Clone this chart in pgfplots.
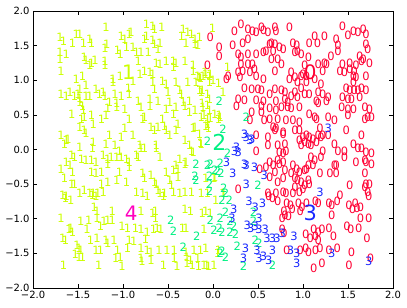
\documentclass[border=0pt]{standalone}
\usepackage{fontspec}
\setmainfont{DejaVu Sans}
\usepackage{pgfplots}
\pgfplotsset{compat=1.18}
\definecolor{c0}{RGB}{255,0,51}
\definecolor{c1}{RGB}{204,255,0}
\definecolor{c2}{RGB}{0,240,130}
\definecolor{c3}{RGB}{25,40,255}
\definecolor{c4}{RGB}{255,0,190}
\pgfplotsset{
  digit/.style n args={3}{only marks, mark=text, text mark={#1}, text mark as node=true,
    text mark style={font=\fontsize{#3}{#3}\selectfont, text=#2, inner sep=0pt}},
}
\begin{document}
\begin{tikzpicture}
\begin{axis}[
  scale only axis, width=360bp, height=277bp,
  xmin=-2, xmax=2, ymin=-2, ymax=2,
  xtick={-2,-1.5,-1,-0.5,0,0.5,1,1.5,2},
  ytick={-2,-1.5,-1,-0.5,0,0.5,1,1.5,2},
  xticklabels={−2.0,−1.5,−1.0,−0.5,0.0,0.5,1.0,1.5,2.0},
  yticklabels={−2.0,−1.5,−1.0,−0.5,0.0,0.5,1.0,1.5,2.0},
  tick label style={font=\fontsize{10}{12}\selectfont},
  major tick length=4bp,
  tick style={black, line width=0.6bp},
  axis line style={line width=0.8bp},
]
% digit 1
\addplot[digit={1}{c1}{11.5}] coordinates {
(-1.19,1.76)(-1.02,1.63)(-1.70,1.62)(-1.66,1.56)(-1.52,1.67)(-1.48,1.66)(-1.56,1.54)(-1.44,1.53)
(-1.37,1.59)(-1.35,1.53)(-1.20,1.46)(-1.18,1.52)(-1.06,1.43)(-1.03,1.38)(-1.70,1.40)(-1.70,1.30)
(-1.63,1.37)(-1.43,1.33)(-1.41,1.29)(-1.35,1.25)(-1.31,1.29)(-1.37,1.21)(-1.20,1.28)(-1.20,1.21)
(-1.69,1.13)(-1.52,1.01)(-1.45,1.06)(-1.41,0.93)(-1.48,0.87)(-1.11,1.01)(-1.11,0.97)(-1.03,1.05)
(-1.69,0.80)(-1.63,0.77)(-1.59,0.82)(-1.54,0.77)(-1.50,0.80)(-1.48,0.74)(-1.41,0.77)(-1.37,0.77)
(-1.30,0.87)(-1.26,0.80)(-1.22,0.82)(-1.20,0.77)(-1.09,0.80)(-1.02,0.77)(-1.15,0.68)(-1.07,0.66)
(-1.48,0.68)
(-0.74,1.81)(-0.67,1.78)(-0.65,1.74)(-0.57,1.76)(-0.93,1.66)(-0.91,1.69)(-0.74,1.64)(-0.76,1.59)
(-0.67,1.57)(-0.65,1.52)(-0.59,1.54)(-0.61,1.45)(-0.33,1.74)(-0.35,1.64)(-0.28,1.69)(-0.24,1.67)
(-0.20,1.59)(-0.15,1.62)(-0.30,1.54)(-0.20,1.52)(-0.17,1.50)(-0.98,1.59)(-0.96,1.47)(-0.89,1.47)
(-0.85,1.40)(-0.80,1.40)(-0.72,1.40)(-0.83,1.28)(-0.63,1.25)(-0.59,1.23)(-0.52,1.28)(-0.44,1.28)
(-0.44,1.18)(-0.41,1.25)(-0.31,1.28)(-0.22,1.21)(-0.22,1.13)(-0.17,1.06)(-0.11,1.06)(-0.09,1.11)
(-0.04,1.06)(-0.89,0.99)(-0.81,1.09)(-0.76,1.13)(-0.70,1.11)(-0.67,1.09)(-0.67,0.97)(-0.65,0.87)
(-0.56,0.99)(-0.52,0.94)(-0.41,0.97)(-0.28,0.97)(-0.19,0.97)(-0.15,1.04)(-0.94,0.89)(-0.93,0.80)
(-0.83,0.70)(-0.70,0.73)(-0.61,0.70)(-0.50,0.82)(-0.37,0.85)(-0.35,0.80)(-0.15,0.85)(-0.13,0.82)
(-0.04,0.97)(-0.48,0.68)(-0.33,0.68)(-0.26,0.70)(-0.04,0.73)
(-0.005,1.75)(-0.08,1.09)(-0.03,1.08)(0.16,1.18)(-0.14,1.03)(0.0,1.0)(0.06,0.96)(-0.12,0.86)
(-0.06,0.79)(0.11,0.82)(-0.12,0.67)(-0.06,0.64)(-0.10,0.50)(-0.03,0.45)(0.08,0.47)(-0.08,0.33)
(-0.05,0.31)(-0.14,0.09)(0.02,0.51)(0.07,0.49)(0.06,0.44)(0.02,-0.40)(0.11,-0.64)
(-1.45,0.63)(-1.44,0.56)(-1.57,0.51)(-1.46,0.44)(-1.43,0.47)(-1.35,0.49)(-1.24,0.44)(-1.19,0.49)
(-1.17,0.59)(-1.07,0.61)(-1.48,0.32)(-1.43,0.27)(-1.41,0.23)(-1.33,0.37)(-1.69,0.20)(-1.63,0.13)
(-1.61,0.15)(-1.65,0.08)(-1.33,0.10)(-1.15,0.20)(-1.02,0.18)(-1.48,0.03)(-1.34,0.01)(-1.19,0.08)
(-1.09,0.06)(-1.04,-0.02)(-1.57,-0.09)(-1.54,-0.11)(-1.46,-0.14)(-1.41,-0.16)(-1.35,-0.16)(-1.30,-0.18)
(-1.22,-0.09)(-1.17,-0.14)(-1.13,-0.11)(-1.07,-0.11)(-1.02,-0.11)(-1.17,-0.21)(-1.63,-0.18)(-1.59,-0.23)
(-1.69,-0.28)(-1.56,-0.33)(-1.35,-0.33)(-1.30,-0.35)(-1.24,-0.33)(-1.04,-0.33)(-1.65,-0.42)(-1.57,-0.50)
(-1.54,-0.50)(-1.24,-0.50)(-1.17,-0.47)(-1.07,-0.45)(-1.43,-0.59)(-1.37,-0.63)(-1.33,-0.64)(-1.28,-0.63)
(-1.22,-0.62)(-1.67,-0.66)(-1.63,-0.68)(-1.48,-0.64)
(-0.98,0.58)(-0.80,0.61)(-0.70,0.63)(-0.52,0.58)(-0.41,0.61)(-0.31,0.63)(-0.26,0.54)(-0.20,0.56)
(-0.11,0.61)(-0.04,0.56)(-0.93,0.44)(-0.78,0.44)(-0.76,0.46)(-0.56,0.44)(-0.44,0.51)(-0.98,0.30)
(-0.89,0.20)(-0.69,0.32)(-0.65,0.27)(-0.61,0.32)(-0.54,0.34)(-0.52,0.27)(-0.48,0.20)(-0.41,0.27)
(-0.39,0.37)(-0.22,0.30)(-0.20,0.32)(-0.15,0.22)(-0.06,0.44)(-0.06,0.37)(-0.13,0.46)(-0.81,0.06)
(-0.80,0.01)(-0.76,0.01)(-0.63,0.06)(-0.63,0.01)(-0.59,-0.11)(-0.31,0.13)(-0.26,0.06)(-0.24,-0.02)
(-0.22,-0.04)(-0.13,0.08)(-0.96,-0.14)(-0.93,-0.18)(-0.93,-0.26)(-0.85,-0.09)(-0.83,-0.11)(-0.37,-0.14)
(-0.31,-0.21)(-0.30,-0.18)(-0.41,-0.23)(-0.39,-0.28)(-0.44,-0.30)(-0.52,-0.33)(-0.96,-0.47)(-0.78,-0.35)
(-0.76,-0.42)(-0.69,-0.38)(-0.65,-0.47)(-0.63,-0.50)(-0.48,-0.45)(-0.46,-0.52)(-0.39,-0.40)(-0.85,-0.62)
(-0.78,-0.64)(-0.61,-0.59)(-0.59,-0.64)(-0.54,-0.64)(-0.44,-0.62)(-0.37,-0.64)(-0.31,-0.62)(-0.24,-0.62)
(-0.13,-0.64)(-0.06,-0.64)
(-1.64,-0.70)(-1.58,-0.73)(-1.34,-0.66)(-1.30,-0.67)(-0.73,-0.68)(-0.55,-0.68)(-1.32,-0.83)(-1.29,-0.90)
(-1.12,-0.90)(-0.80,-0.90)(-0.67,-0.92)(-0.64,-0.90)(-0.31,-0.87)(-0.25,-0.90)(-0.12,-0.92)(-1.69,-0.99)
(-1.47,-1.04)(-1.38,-1.02)(-1.29,-0.99)(-1.21,-1.04)(-1.17,-1.02)(-1.12,-1.02)(-0.64,-0.99)(-1.58,-1.14)
(-1.60,-1.16)(-1.56,-1.19)(-1.40,-1.16)(-1.25,-1.11)(-1.01,-1.11)(-0.95,-1.14)(-0.86,-1.14)(-0.80,-1.16)
(-0.73,-1.19)(-0.66,-1.16)(-0.62,-1.14)(-0.58,-1.16)(-0.34,-1.14)(-0.30,-1.14)(-1.67,-1.28)(-1.64,-1.31)
(-1.51,-1.38)(-1.36,-1.31)(-1.29,-1.28)(-1.19,-1.31)(-1.17,-1.36)(-1.10,-1.31)(-0.93,-1.31)(-0.88,-1.33)
(-0.75,-1.30)(-1.49,-1.43)(-1.47,-1.45)(-1.30,-1.45)(-1.25,-1.45)(-1.06,-1.45)(-0.95,-1.43)(-0.80,-1.43)
(-0.73,-1.45)(-0.69,-1.48)(-0.60,-1.45)(-0.51,-1.45)(-0.43,-1.45)(-0.30,-1.48)(-0.21,-1.45)(-0.14,-1.45)
(-1.53,-1.52)(-1.49,-1.55)(-1.45,-1.55)(-1.08,-1.57)(-1.03,-1.55)(-0.80,-1.57)(-0.79,-1.62)(-0.69,-1.60)
(-0.43,-1.57)(-0.29,-1.55)(-0.25,-1.60)(-0.17,-1.57)(-1.66,-1.67)(-1.27,-1.67)(-1.01,-1.69)(-0.55,-1.67)
(-0.40,-1.69)(-0.29,-1.64)(-0.23,-1.67)(-0.16,-1.69)(-0.10,-1.67)
(-0.08,-0.90)(-0.03,-0.92)(-0.10,-1.16)(-0.08,-1.43)(0.05,-1.50)(0.06,-1.45)(-0.07,-1.67)(-0.05,-1.69)
(0.01,-1.67)(0.03,-0.73)(0.12,-0.63)(-0.08,-0.42)(0.01,-0.42)
};
% digit 0
\addplot[digit={0}{c0}{11.5}] coordinates {
(-0.03,1.62)(-0.06,1.22)
(0.31,1.81)(0.24,1.70)(0.39,1.74)(0.44,1.70)(0.48,1.69)(0.54,1.77)(0.56,1.72)(0.61,1.69)
(0.69,1.76)(0.70,1.70)(0.85,1.77)(0.33,1.54)(0.39,1.59)(0.22,1.50)(0.07,1.47)(0.07,1.35)
(0.28,1.38)(0.31,1.33)(0.39,1.38)(0.48,1.38)(0.56,1.40)(0.59,1.42)(0.63,1.52)(0.65,1.54)
(0.69,1.52)(0.67,1.42)(0.74,1.47)(0.78,1.45)(0.89,1.54)(0.93,1.50)(0.91,1.40)(0.98,1.38)
(0.94,1.42)(0.31,1.23)(0.39,1.23)(0.44,1.23)(0.33,1.13)(0.41,1.11)(0.28,1.11)(0.17,1.06)
(0.15,1.01)(0.30,1.04)(0.46,1.16)(0.48,1.06)(0.56,1.01)(0.65,1.30)(0.72,1.30)(0.76,1.23)
(0.69,1.13)(0.87,1.11)(0.91,1.04)(0.98,1.06)(0.85,1.01)(0.94,0.97)(0.98,0.89)(0.35,0.89)
(0.43,0.87)(0.50,0.87)(0.54,0.86)(0.69,0.87)(0.76,0.85)(0.80,0.82)(0.87,0.77)(0.91,0.82)
(0.94,0.75)(0.28,0.73)(0.35,0.71)(0.48,0.71)(0.56,0.69)(0.70,0.70)(0.80,0.73)(0.83,0.68)
(0.63,0.80)
(1.44,1.78)(1.50,1.65)(1.56,1.71)(1.61,1.69)(1.67,1.74)(1.70,1.66)(1.13,1.64)(1.07,1.54)
(1.16,1.54)(1.24,1.63)(1.37,1.59)(1.39,1.50)(1.39,1.42)(1.31,1.35)(1.24,1.25)(1.26,1.23)
(1.44,1.23)(1.52,1.25)(1.59,1.22)(1.65,1.28)(1.63,1.35)(1.67,1.30)(1.74,1.25)(1.70,1.52)
(1.72,1.45)(1.06,1.33)(1.02,1.21)(1.00,1.09)(1.04,1.06)(1.13,1.01)(1.17,1.23)(1.22,1.13)
(1.41,1.13)(1.46,1.11)(1.52,1.16)(1.57,1.13)(1.56,1.06)(1.59,1.04)(1.56,0.97)(1.70,1.06)
(1.65,0.89)(1.70,0.85)(1.48,0.89)(1.52,0.85)(1.57,0.85)(1.61,0.85)(1.04,0.97)(1.02,0.80)
(1.07,0.80)(1.17,0.82)(1.22,0.80)(1.28,0.75)(1.26,0.70)(1.15,0.70)(1.44,0.75)(1.50,0.73)
(1.54,0.73)(1.63,0.75)(1.20,0.94)
(0.26,0.63)(0.54,0.63)(0.43,0.54)(0.54,0.54)(0.63,0.59)(0.70,0.56)(0.76,0.61)(0.83,0.61)
(0.87,0.59)(0.96,0.61)(0.41,0.42)(0.57,0.42)(0.63,0.44)(0.72,0.44)(0.81,0.42)(0.89,0.42)
(0.96,0.39)(0.67,0.32)(0.69,0.27)(0.70,0.30)(0.78,0.25)(0.78,0.22)(0.91,0.27)(0.96,0.27)
(0.61,0.18)(0.48,0.20)(0.72,0.06)(0.80,0.08)(0.96,0.13)(0.98,0.06)(0.48,-0.02)(0.61,0.06)
(0.74,-0.04)(0.78,-0.06)(0.81,-0.02)(0.63,-0.18)(0.67,-0.23)(0.72,-0.16)(0.74,-0.21)(0.78,-0.18)
(0.52,-0.28)(0.59,-0.26)(0.69,-0.33)(0.80,-0.30)(0.89,-0.23)(0.93,-0.28)(0.96,-0.33)(0.87,-0.35)
(0.63,-0.40)(0.72,-0.47)(0.78,-0.42)(0.91,-0.42)(0.94,-0.45)(0.98,-0.47)(0.91,-0.55)(0.28,-0.57)
(0.61,-0.64)(0.70,-0.64)(0.78,-0.62)(0.81,-0.64)(0.89,-0.64)(0.96,-0.62)
(1.17,0.66)(1.43,0.61)(1.50,0.58)(1.56,0.58)(1.69,0.61)(1.74,0.58)(1.07,0.51)(1.13,0.46)
(1.15,0.44)(1.28,0.46)(1.35,0.42)(1.50,0.49)(1.69,0.44)(1.72,0.46)(1.76,0.46)(1.19,0.30)
(1.17,0.20)(1.20,0.18)(1.22,0.20)(1.28,0.20)(1.48,0.27)(1.65,0.20)(1.00,0.18)(1.04,0.20)
(1.07,0.18)(1.11,0.15)(1.15,0.10)(1.02,0.10)(1.06,0.08)(1.09,0.06)(1.35,0.08)(1.56,0.08)
(1.22,-0.02)(1.20,-0.11)(1.39,-0.02)(1.46,-0.02)(1.46,-0.11)(1.61,0.01)(1.65,0.01)(1.70,-0.04)
(1.76,-0.06)(1.69,-0.16)(1.70,-0.18)(1.76,-0.21)(1.59,-0.18)(1.09,-0.11)(1.13,-0.16)(1.11,-0.23)
(1.06,-0.23)(1.04,-0.28)(1.02,-0.30)(1.19,-0.35)(1.30,-0.35)(1.37,-0.35)(1.35,-0.23)(1.37,-0.23)
(1.69,-0.35)(1.70,-0.50)(1.74,-0.50)(1.69,-0.55)(1.72,-0.62)(1.52,-0.52)(1.06,-0.45)(1.07,-0.50)
(1.02,-0.52)(1.00,-0.57)(1.41,-0.66)
(0.62,-0.68)(0.66,-0.70)(0.72,-0.75)(0.82,-0.78)(0.86,-0.80)(0.95,-0.78)(0.99,-0.83)(1.04,-0.78)
(1.14,-0.75)(1.17,-0.78)(1.29,-0.78)(1.32,-0.80)(1.38,-0.75)(1.51,-0.80)(1.58,-0.78)(1.60,-0.85)
(1.64,-0.83)(1.73,-0.68)(0.79,-0.90)(0.80,-0.95)(0.88,-0.87)(0.84,-0.97)(0.77,-0.99)(0.97,-0.90)
(1.32,-0.95)(1.55,-0.87)(1.64,-0.99)(1.73,-0.99)(0.77,-1.16)(0.79,-1.21)(1.12,-1.16)(1.17,-1.19)
(1.21,-1.16)(1.29,-1.14)(1.34,-1.26)(1.49,-1.11)(1.53,-1.16)(1.62,-1.14)(1.71,-1.28)(1.03,-1.23)
(1.08,-1.28)(1.14,-1.26)(1.17,-1.31)(0.82,-1.45)(0.97,-1.45)(1.03,-1.43)(1.06,-1.48)(1.14,-1.45)
(1.19,-1.43)(1.29,-1.45)(1.38,-1.43)(1.54,-1.48)(1.75,-1.57)(1.12,-1.72)(1.21,-1.64)(1.51,-1.67)
};
% digit 2
\addplot[digit={2}{c2}{11.5}] coordinates {
(0.07,0.69)(0.37,0.47)(0.11,0.29)(-0.06,0.12)(0.16,-0.05)(-0.19,-0.21)(-0.06,-0.23)(-0.20,-0.38)
(-0.19,-0.45)(-0.04,-0.38)(-0.04,-0.50)(-0.04,-0.60)(0.02,-0.30)(0.09,-0.35)(0.50,-0.52)(-0.03,-0.22)
(0.08,-0.20)(0.05,-0.32)(0.12,-0.56)(0.14,-0.63)(-0.47,-1.02)(-0.44,-1.18)(-0.18,-1.25)(-0.33,-1.41)
(0.01,-1.16)(0.07,-1.14)(0.10,-1.19)(0.19,-1.19)(0.23,-1.11)(0.25,-1.23)(0.08,-0.99)(0.14,-0.90)
(0.10,-0.73)(0.18,-0.73)(0.45,-0.90)(0.45,-1.04)(0.47,-1.31)(0.66,-1.67)(0.34,-1.69)(0.27,-1.40)
(0.14,-1.55)(0.08,-1.50)(0.10,-1.47)(-0.03,-1.02)(0.51,-1.35)(0.19,-1.04)
};
% digit 3
\addplot[digit={3}{c3}{11.5}] coordinates {
(0.35,0.22)(0.37,0.18)(0.41,0.13)(0.43,0.15)(0.26,0.03)(0.24,-0.02)(0.28,-0.04)(0.15,-0.18)
(0.35,-0.21)(0.37,-0.23)(0.46,-0.26)(0.22,-0.35)(0.57,-0.38)(0.37,-0.50)(1.28,0.31)(1.19,-0.62)
(0.40,-0.75)(0.47,-0.83)(0.55,-0.78)(0.23,-0.86)(0.21,-0.99)(0.51,-0.99)(0.38,-1.09)(0.42,-1.14)
(0.47,-1.11)(0.51,-1.16)(0.58,-1.16)(0.60,-1.28)(0.66,-1.28)(0.71,-1.28)(0.77,-1.21)(0.90,-1.26)
(0.86,-1.45)(0.93,-1.50)(1.32,-1.50)(0.66,-1.45)(0.56,-1.55)(0.49,-1.45)(0.36,-1.43)(0.34,-1.57)
(0.51,-1.57)(0.62,-1.60)(0.93,-1.64)(1.73,-1.62)
};
% large labels
\addplot[digit={1}{c1}{20}] coordinates {(-0.94,1.11)};
\addplot[digit={0}{c0}{20}] coordinates {(1.08,1.12)};
\addplot[digit={2}{c2}{22}] coordinates {(0.07,0.11)};
\addplot[digit={3}{c3}{21}] coordinates {(1.08,-0.92)};
\addplot[digit={4}{c4}{20}] coordinates {(-0.91,-0.92)};
\end{axis}
\path ([xshift=-33bp,yshift=-20bp]current axis.south west) rectangle ([xshift=14bp,yshift=11bp]current axis.north east);
\end{tikzpicture}
\end{document}
